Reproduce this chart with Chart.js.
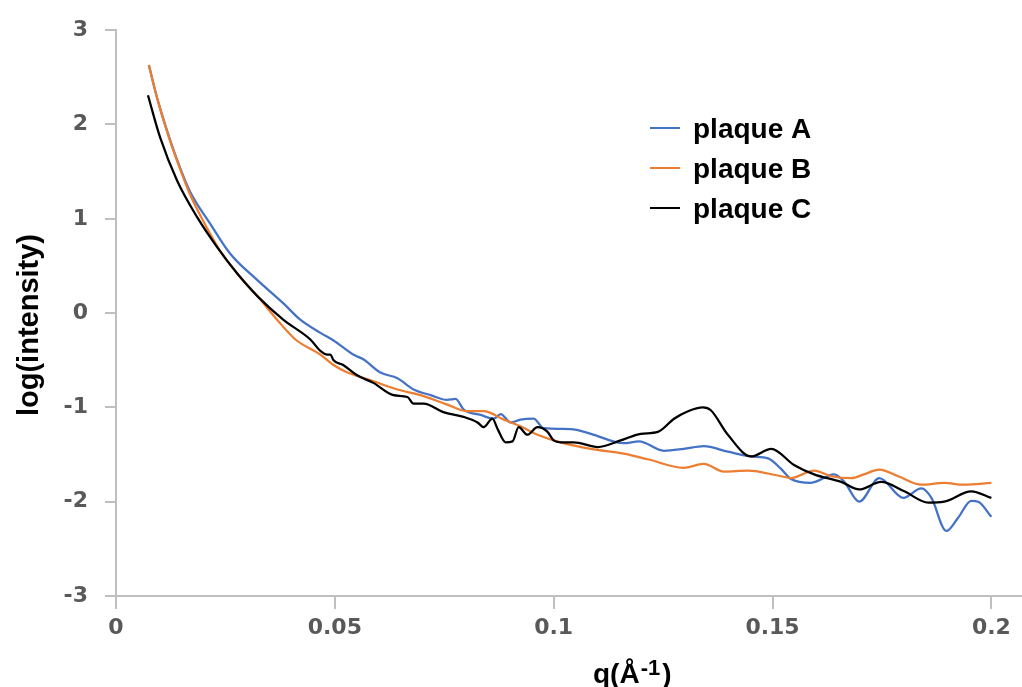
<!DOCTYPE html>
<html lang="en">
<head>
    <meta charset="UTF-8">
    <title>log(intensity) vs q</title>
    <script src="https://cdn.jsdelivr.net/npm/chart.js@4.4.0/dist/chart.umd.min.js"></script>
    <style>
        body { margin: 0; background: #ffffff; }
        #wrap { width: 1022px; height: 687px; position: relative; }
    </style>
</head>
<body>
<div id="wrap"><canvas id="saxsChart"></canvas></div>

<script>
    // --- Data ---
    const seriesLabels = ['plaque A', 'plaque B', 'plaque C'];
    const seriesColors = ['#4472C4', '#ED7D31', '#000000'];

    // plaque A
    const qA = [0.0075, 0.0094, 0.0117, 0.014, 0.0169, 0.0215, 0.0261, 0.0323, 0.0382, 0.0421,
                0.0467, 0.0497, 0.0542, 0.0565, 0.0604, 0.0643, 0.068, 0.0719, 0.0757, 0.0776,
                0.0794, 0.0833, 0.0863, 0.0879, 0.0902, 0.0924, 0.0954, 0.0977, 0.1039, 0.1085,
                0.116, 0.1195, 0.1252, 0.1297, 0.1343, 0.1398, 0.1451, 0.149, 0.1519, 0.1542,
                0.1588, 0.1641, 0.1664, 0.1698, 0.1744, 0.1799, 0.184, 0.1863, 0.1897, 0.1924,
                0.1954, 0.197, 0.2];
    const logA = [2.63, 2.28, 1.93, 1.62, 1.29, 0.95, 0.63, 0.35, 0.105, -0.07,
                  -0.21, -0.29, -0.44, -0.49, -0.63, -0.69, -0.81, -0.87, -0.92, -0.91,
                  -1.02, -1.08, -1.12, -1.07, -1.16, -1.13, -1.12, -1.22, -1.23, -1.28,
                  -1.38, -1.36, -1.46, -1.44, -1.41, -1.47, -1.52, -1.54, -1.65, -1.76,
                  -1.80, -1.71, -1.79, -2.00, -1.75, -1.96, -1.86, -1.96, -2.31, -2.17,
                  -1.99, -2.00, -2.16];

    // plaque B
    const qB = [0.0075, 0.0094, 0.0117, 0.014, 0.0169, 0.0199, 0.0238, 0.0277, 0.0323, 0.0368,
                0.041, 0.0467, 0.0497, 0.0529, 0.0581, 0.0643, 0.0696, 0.0757, 0.0803, 0.084,
                0.0886, 0.0924, 0.0963, 0.1016, 0.1085, 0.116, 0.1215, 0.1297, 0.1343, 0.1389,
                0.1444, 0.1519, 0.1542, 0.1595, 0.1634, 0.168, 0.1709, 0.1744, 0.1787, 0.184,
                0.1892, 0.1938, 0.2];
    const logB = [2.63, 2.28, 1.92, 1.61, 1.26, 0.98, 0.66, 0.42, 0.18, -0.07,
                  -0.28, -0.44, -0.55, -0.63, -0.71, -0.81, -0.87, -0.97, -1.04, -1.04,
                  -1.13, -1.20, -1.29, -1.37, -1.44, -1.49, -1.55, -1.64, -1.60, -1.68,
                  -1.67, -1.73, -1.75, -1.67, -1.73, -1.75, -1.71, -1.66, -1.73, -1.82,
                  -1.80, -1.82, -1.80];

    // plaque C
    const qC = [0.0073, 0.0101, 0.014, 0.0185, 0.0231, 0.0277, 0.0323, 0.0382, 0.0444, 0.0467,
                0.0483, 0.049, 0.0497, 0.0519, 0.0551, 0.0588, 0.0634, 0.0666, 0.068, 0.0703,
                0.0748, 0.0794, 0.0826, 0.084, 0.086, 0.0872, 0.089, 0.0906, 0.092, 0.094,
                0.0963, 0.0986, 0.1, 0.1016, 0.1046, 0.1101, 0.1153, 0.1199, 0.1238, 0.1275,
                0.1307, 0.1341, 0.1359, 0.1398, 0.1451, 0.1497, 0.1549, 0.1595, 0.1657, 0.1698,
                0.1748, 0.1801, 0.1856, 0.1892, 0.1954, 0.2];
    const logC = [2.31, 1.86, 1.40, 1.02, 0.70, 0.42, 0.18, -0.07, -0.28, -0.40,
                  -0.44, -0.44, -0.50, -0.55, -0.66, -0.74, -0.87, -0.89, -0.96, -0.96,
                  -1.05, -1.10, -1.16, -1.21, -1.12, -1.23, -1.37, -1.36, -1.21, -1.29,
                  -1.21, -1.26, -1.35, -1.37, -1.37, -1.42, -1.35, -1.28, -1.26, -1.12,
                  -1.04, -1.00, -1.03, -1.29, -1.52, -1.44, -1.61, -1.71, -1.79, -1.87,
                  -1.79, -1.89, -2.01, -2.00, -1.89, -1.96];

    const xTicks = [0, 0.05, 0.1, 0.15, 0.2];
    const yTicks = [-3, -2, -1, 0, 1, 2, 3];

    const toPoints = (qs, ys) => qs.map((q, i) => ({ x: q, y: ys[i] }));
    const seriesData = [toPoints(qA, logA), toPoints(qB, logB), toPoints(qC, logC)];

    const axisGrey = '#bfbfbf';
    const tickFont = { family: 'DejaVu Sans', size: 22, weight: 'bold' };
    const titleFace = '"Liberation Sans", Arial, sans-serif';

    // titles + legend drawn by hand (legend sits inside the plot, x title has a superscript)
    const annotations = {
        id: 'annotations',
        afterDraw(chart) {
            const ctx = chart.ctx;
            ctx.save();
            ctx.fillStyle = '#000000';

            // y title
            ctx.save();
            ctx.translate(30, 325);
            ctx.rotate(-Math.PI / 2);
            ctx.font = 'bold 29px ' + titleFace;
            ctx.textAlign = 'center';
            ctx.textBaseline = 'middle';
            ctx.fillText('log(intensity)', 0, 0);
            ctx.restore();

            // x title: q(Å-1) with superscript
            ctx.textAlign = 'left';
            ctx.textBaseline = 'alphabetic';
            let x = 593;
            ctx.font = 'bold 28px ' + titleFace;
            ctx.fillText('q(Å', x, 683);
            x += ctx.measureText('q(Å').width + 1;
            ctx.font = 'bold 22px ' + titleFace;
            ctx.fillText('-1', x, 675);
            x += ctx.measureText('-1').width + 2;
            ctx.font = 'bold 28px ' + titleFace;
            ctx.fillText(')', x, 683);

            // legend
            ctx.font = 'bold 28px ' + titleFace;
            ctx.textBaseline = 'middle';
            chart.data.datasets.forEach((ds, i) => {
                const y = 128 + i * 40;
                ctx.strokeStyle = ds.borderColor;
                ctx.lineWidth = 2;
                ctx.beginPath();
                ctx.moveTo(650, y);
                ctx.lineTo(680, y);
                ctx.stroke();
                ctx.fillStyle = '#000000';
                ctx.fillText(ds.label, 693, y + 2);
            });
            ctx.restore();
        }
    };

    new Chart(document.getElementById('saxsChart'), {
        type: 'line',
        data: {
            datasets: seriesLabels.map((label, i) => ({
                label: label,
                data: seriesData[i],
                borderColor: seriesColors[i],
                backgroundColor: seriesColors[i],
                borderWidth: 2.25,
                pointRadius: 0,
                cubicInterpolationMode: 'monotone',
                order: seriesLabels.length - i,   // later series drawn on top, as in the original
                fill: false
            }))
        },
        options: {
            responsive: true,
            maintainAspectRatio: false,
            animation: false,
            layout: { padding: { top: 25, right: 0, left: 0, bottom: 0 } },
            plugins: {
                legend: { display: false },
                tooltip: { enabled: false }
            },
            scales: {
                x: {
                    type: 'linear',
                    min: 0,
                    max: 0.207,
                    afterBuildTicks: (scale) => { scale.ticks = xTicks.map(v => ({ value: v })); },
                    afterFit: (scale) => { scale.height = 91; },
                    ticks: {
                        font: tickFont,
                        color: '#595959',
                        padding: 6,
                        maxRotation: 0,
                        callback: (v) => String(v)
                    },
                    grid: { drawOnChartArea: false, drawTicks: true, tickLength: 13, color: axisGrey, lineWidth: 2 },
                    border: { color: axisGrey, width: 2 }
                },
                y: {
                    min: -3,
                    max: 3,
                    afterBuildTicks: (scale) => { scale.ticks = yTicks.map(v => ({ value: v })); },
                    afterFit: (scale) => { scale.width = 116; },
                    ticks: {
                        font: tickFont,
                        color: '#595959',
                        padding: 17
                    },
                    grid: { drawOnChartArea: false, drawTicks: true, tickLength: 11, color: axisGrey, lineWidth: 2 },
                    border: { color: axisGrey, width: 2 }
                }
            }
        },
        plugins: [annotations]
    });
</script>
</body>
</html>
